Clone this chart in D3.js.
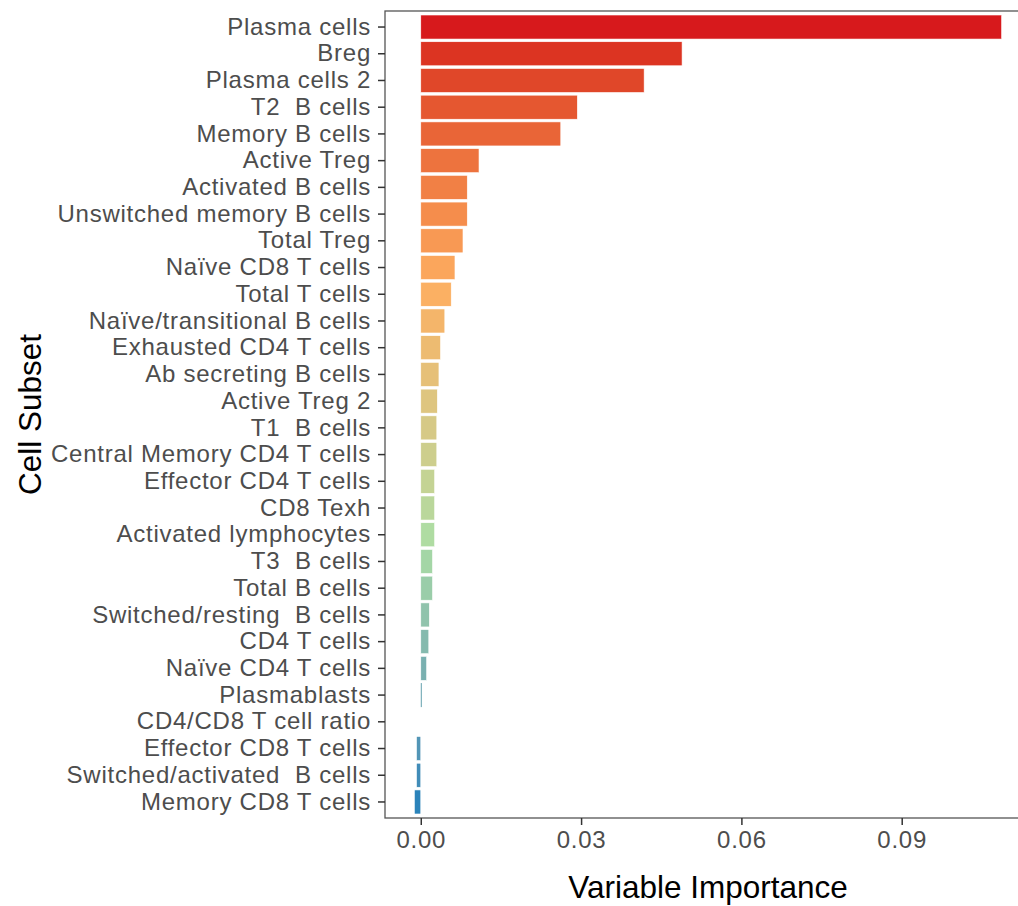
<!DOCTYPE html>
<html>
<head>
<meta charset="utf-8">
<script src="https://cdn.jsdelivr.net/npm/d3@7"></script>
<style>
  body { margin: 0; background: #fff; }
  svg { display: block; font-family: "Liberation Sans", Arial, sans-serif; }
  text { white-space: pre; }
</style>
</head>
<body>
<figure id="chart" style="margin:0"></figure>
<script>
// cell subsets, top to bottom
const cells = [
  'Plasma cells', 'Breg', 'Plasma cells 2', 'T2  B cells', 'Memory B cells',
  'Active Treg', 'Activated B cells', 'Unswitched memory B cells', 'Total Treg',
  'Naïve CD8 T cells', 'Total T cells', 'Naïve/transitional B cells',
  'Exhausted CD4 T cells', 'Ab secreting B cells', 'Active Treg 2', 'T1  B cells',
  'Central Memory CD4 T cells', 'Effector CD4 T cells', 'CD8 Texh',
  'Activated lymphocytes', 'T3  B cells', 'Total B cells', 'Switched/resting  B cells',
  'CD4 T cells', 'Naïve CD4 T cells', 'Plasmablasts', 'CD4/CD8 T cell ratio',
  'Effector CD8 T cells', 'Switched/activated  B cells', 'Memory CD8 T cells'
];

const importance = [
  0.1087, 0.0489, 0.0418, 0.0293, 0.0262,
  0.0109, 0.0087, 0.0087, 0.0079,
  0.0064, 0.0057, 0.0045,
  0.0037, 0.0034, 0.0031, 0.0030,
  0.0030, 0.0026, 0.0026,
  0.0026, 0.0022, 0.0022, 0.0016,
  0.0015, 0.0011, 0.0002, 0.0,
  -0.0008, -0.0008, -0.0012
];

const xTicks = [0, 0.03, 0.06, 0.09];
const paletteStops = ['#d7191c', '#fdae61', '#abdda4', '#2b83ba'];

const width = 1018;
const height = 906;
const panel = {left: 385, top: 11, right: 1031, bottom: 818};
const labelFont = '"Liberation Sans", Arial, sans-serif';

const data = cells.map((c, i) => ({cell: c, value: importance[i], rank: i}));

const svg = d3.select('figure#chart')
  .append('svg')
  .attr('width', width)
  .attr('height', height);

svg.append('rect')
  .attr('width', width)
  .attr('height', height)
  .attr('fill', '#fff');

// 5% expansion like ggplot
const ext = d3.extent(importance);
const pad = (ext[1] - ext[0]) * 0.05;
const x = d3.scaleLinear()
  .domain([ext[0] - pad, ext[1] + pad])
  .range([panel.left, panel.right]);

// discrete scale with 0.6 unit expansion
const n = cells.length;
const step = (panel.bottom - panel.top) / (n - 1 + 1.2);
const y = d3.scaleBand()
  .domain(cells)
  .range([panel.top + 0.6 * step - step / 2, panel.bottom - 0.6 * step + step / 2])
  .paddingInner(0.1)
  .paddingOuter(0.05);

const color = d3.scaleLinear()
  .domain(paletteStops.map((c, i) => i * (n - 1) / (paletteStops.length - 1)))
  .range(paletteStops)
  .interpolate(d3.interpolateLab);

svg.append('g')
  .selectAll('rect')
  .data(data)
  .enter().append('rect')
  .attr('x', d => x(Math.min(0, d.value)))
  .attr('width', d => Math.abs(x(d.value) - x(0)))
  .attr('y', d => y(d.cell))
  .attr('height', y.bandwidth())
  .attr('fill', d => color(d.rank))
  .attr('stroke', d => Math.abs(x(d.value) - x(0)) < 2 ? 'none' : '#fff')
  .attr('stroke-width', 0.6);

// panel border
svg.append('rect')
  .attr('x', panel.left)
  .attr('y', panel.top)
  .attr('width', panel.right - panel.left)
  .attr('height', panel.bottom - panel.top)
  .attr('fill', 'none')
  .attr('stroke', '#555')
  .attr('stroke-width', 1.3);

const yAxis = svg.append('g')
  .attr('transform', `translate(${panel.left},0)`)
  .call(d3.axisLeft(y).tickSize(7).tickPadding(7));

const xAxis = svg.append('g')
  .attr('transform', `translate(0,${panel.bottom})`)
  .call(d3.axisBottom(x).tickValues(xTicks).tickFormat(d3.format('.2f')).tickSize(7).tickPadding(6));

[xAxis, yAxis].forEach(a => {
  a.select('.domain').remove();
  a.selectAll('.tick line').attr('stroke', '#333').attr('stroke-width', 1.5);
  a.selectAll('.tick text')
    .attr('fill', '#4d4d4d')
    .attr('font-size', '24px')
    .attr('letter-spacing', '0.75px')
    .attr('font-family', labelFont);
});

svg.append('text')
  .attr('x', (panel.left + panel.right) / 2)
  .attr('y', 898)
  .attr('text-anchor', 'middle')
  .attr('font-size', '31.5px')
  .attr('fill', '#000')
  .text('Variable Importance');

svg.append('text')
  .attr('transform', `translate(41,${(panel.top + panel.bottom) / 2}) rotate(-90)`)
  .attr('text-anchor', 'middle')
  .attr('font-size', '31.5px')
  .attr('fill', '#000')
  .text('Cell Subset');
</script>
</body>
</html>
